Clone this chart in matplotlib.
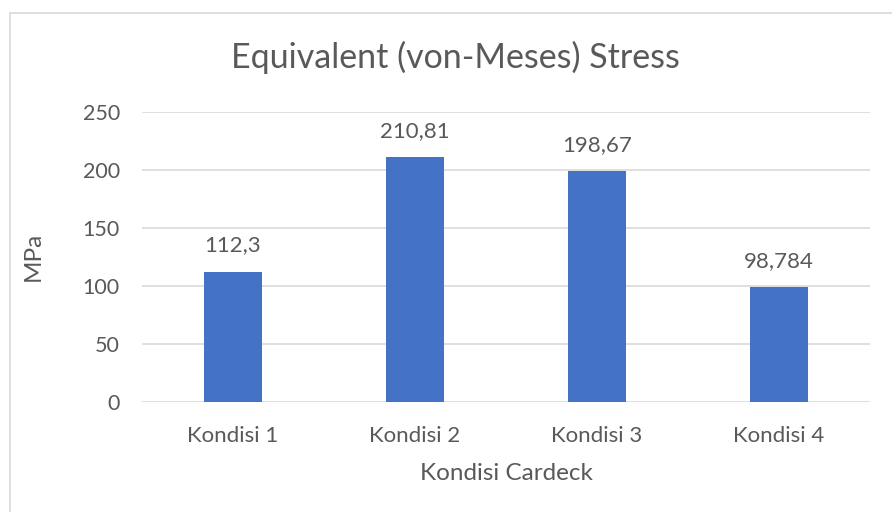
import matplotlib.pyplot as plt
from matplotlib.patches import Rectangle

categories = ["Kondisi 1", "Kondisi 2", "Kondisi 3", "Kondisi 4"]
values = [112.3, 210.81, 198.67, 98.784]
value_labels = ["112,3", "210,81", "198,67", "98,784"]
yticks = [0, 50, 100, 150, 200, 250]

text_color = "#595959"
bar_color = "#4472C4"
grid_color = "#D9D9D9"

plt.rcParams['font.family'] = ['Lato', 'DejaVu Sans']

W, H = 892, 512
fig = plt.figure(figsize=(W / 100, H / 100), dpi=100)

# chart border (Excel chart area, right/bottom edges cropped off)
fig.patches.append(Rectangle((9.5 / W, -0.1), 1.2, 1.1 - 12.5 / H, transform=fig.transFigure,
                             fill=False, edgecolor="#D9D9D9", linewidth=1.2))

ax = fig.add_axes([142 / W, 1 - 402 / H, (870 - 142) / W, (402 - 111.5) / H])
x = list(range(len(categories)))
ax.bar(x, values, width=0.315, color=bar_color, zorder=3)
ax.set_xlim(-0.5, len(categories) - 0.5)
ax.set_ylim(0, 250)
ax.set_yticks(yticks)
ax.set_xticks(x)
ax.set_xticklabels(categories)
ax.tick_params(axis='both', length=0, colors=text_color)
ax.tick_params(axis='y', pad=16, labelsize=15.5)
ax.tick_params(axis='x', pad=17, labelsize=16)
for s in ax.spines.values():
    s.set_visible(False)
ax.grid(axis='y', color=grid_color, linewidth=1.2, zorder=0)

for xi, v, lab in zip(x, values, value_labels):
    ax.annotate(lab, (xi, v), xytext=(0, 19), textcoords='offset points',
                ha='center', va='center', fontsize=16, color=text_color)

ax.set_ylabel("MPa", fontsize=17.5, color=text_color, labelpad=28)
ax.set_xlabel("Kondisi Cardeck", fontsize=17.5, color=text_color, labelpad=12.5)
fig.text(455 / W, 1 - 57 / H, "Equivalent (von-Meses) Stress", ha='center', va='center',
         fontsize=24.5, color=text_color)

fig.savefig("out.png", dpi=100)
